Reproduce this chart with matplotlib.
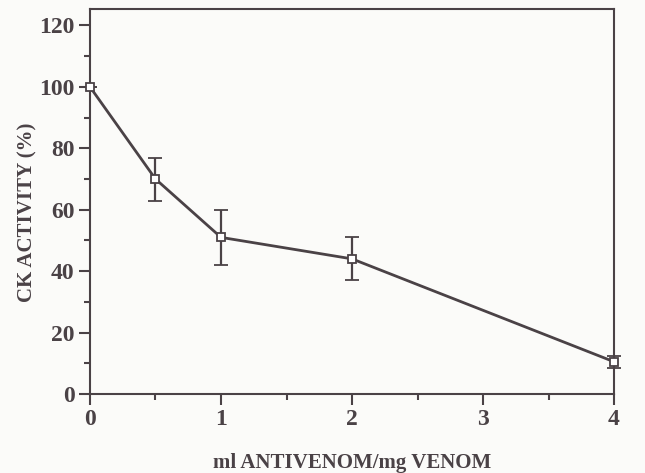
import matplotlib.pyplot as plt
from matplotlib.ticker import MultipleLocator

# antivenom dose (ml/mg venom) vs remaining CK activity
dose = [0, 0.5, 1, 2, 4]
activity = [100, 70, 51, 44, 10.5]
activity_err = [0, 7, 9, 7, 2]

ink = '#4a4246'

plt.rcParams['font.family'] = ['Liberation Serif', 'DejaVu Serif']
plt.rcParams['font.weight'] = 'bold'

fig = plt.figure(figsize=(6.45, 4.73), dpi=100, facecolor='#fbfbf9')
ax = fig.add_axes([0.1395, 0.167, 0.8125, 0.813])
ax.set_facecolor('#fbfbf9')

ax.errorbar(dose, activity, yerr=activity_err, color=ink, lw=2,
            elinewidth=1.6, capsize=5, capthick=1.6,
            marker='s', ms=6, mfc='white', mec=ink, mew=1.3, zorder=3,
            clip_on=False)

ax.set_xlim(0, 4)
ax.set_ylim(0, 125.2)
ax.xaxis.set_major_locator(MultipleLocator(1))
ax.xaxis.set_minor_locator(MultipleLocator(0.5))
ax.yaxis.set_major_locator(MultipleLocator(20))
ax.yaxis.set_minor_locator(MultipleLocator(10))

for s in ax.spines.values():
    s.set_color(ink)
    s.set_linewidth(1.5)

ax.tick_params(which='major', direction='out', length=8, width=1.5,
               color=ink, labelcolor=ink, labelsize=17, pad=3)
ax.tick_params(which='minor', direction='out', length=4, width=1.5, color=ink)
for lab in ax.get_xticklabels() + ax.get_yticklabels():
    lab.set_fontweight('bold')

ax.set_xlabel('ml ANTIVENOM/mg VENOM', fontsize=15, fontweight='bold',
              color=ink, va='center')
ax.set_ylabel('CK ACTIVITY (%)', fontsize=15, fontweight='bold', color=ink,
              va='center')
ax.xaxis.set_label_coords(0.5, -0.18)
ax.yaxis.set_label_coords(-0.12, 0.473)

fig.savefig('out.png', dpi=100, facecolor=fig.get_facecolor())
